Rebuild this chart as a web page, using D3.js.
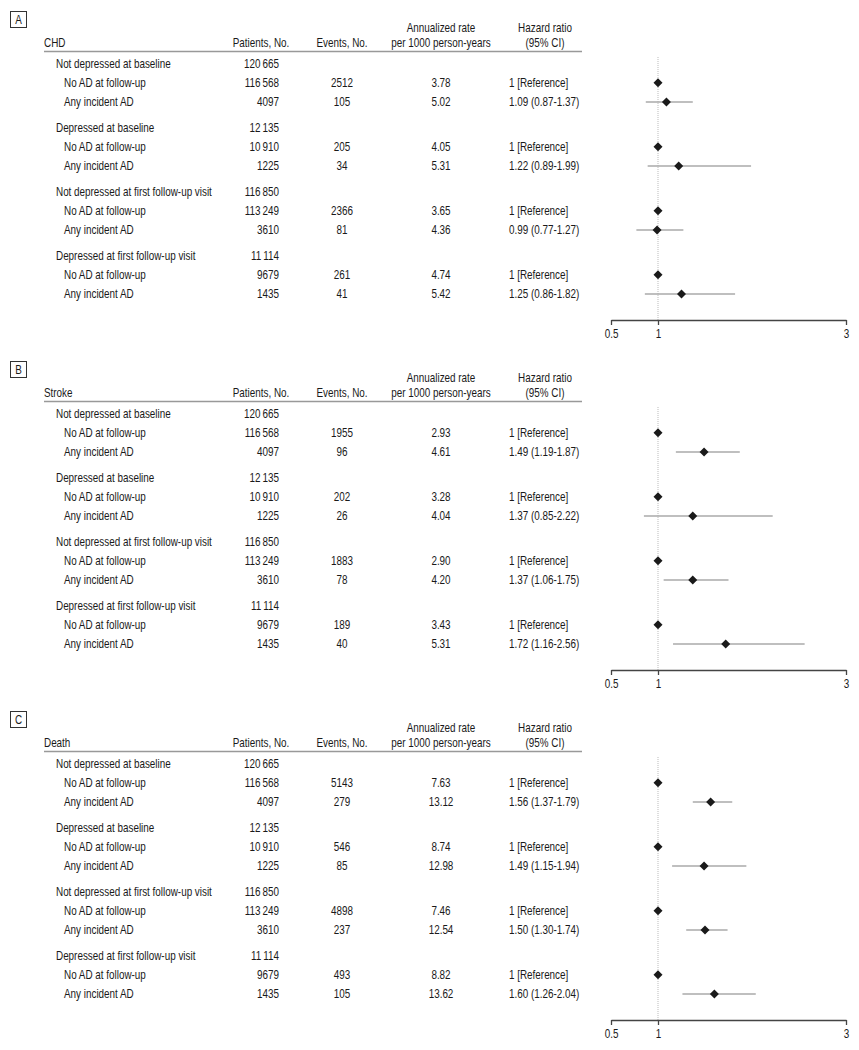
<!DOCTYPE html>
<html>
<head>
<meta charset="utf-8">
<script src="https://cdn.jsdelivr.net/npm/d3@7"></script>
<style>
  html, body { margin: 0; padding: 0; background: #fff; }
  svg text { font-family: "Liberation Sans", Arial, sans-serif; font-size: 12.2px; fill: #1a1a1a; }
</style>
</head>
<body>
<svg id="chart" width="859" height="1050"></svg>
<script>
// ---------------- DATA ----------------
const panelLetters = ["A", "B", "C"];
const outcomes = ["CHD", "Stroke", "Death"];
const groupLabels = ["Not depressed at baseline", "Depressed at baseline",
  "Not depressed at first follow-up visit", "Depressed at first follow-up visit"];
const subLabels = ["No AD at follow-up", "Any incident AD"];
const groupPatients = [120665, 12135, 116850, 11114];
const noADPatients = [116568, 10910, 113249, 9679];
const anyADPatients = [4097, 1225, 3610, 1435];
// per outcome (CHD, Stroke, Death), per group
const noADEvents = [[2512, 205, 2366, 261], [1955, 202, 1883, 189], [5143, 546, 4898, 493]];
const anyADEvents = [[105, 34, 81, 41], [96, 26, 78, 40], [279, 85, 237, 105]];
const noADRates = [["3.78", "4.05", "3.65", "4.74"], ["2.93", "3.28", "2.90", "3.43"], ["7.63", "8.74", "7.46", "8.82"]];
const anyADRates = [["5.02", "5.31", "4.36", "5.42"], ["4.61", "4.04", "4.20", "5.31"], ["13.12", "12.98", "12.54", "13.62"]];
const hrEst = [[1.09, 1.22, 0.99, 1.25], [1.49, 1.37, 1.37, 1.72], [1.56, 1.49, 1.50, 1.60]];
const hrLow = [[0.87, 0.89, 0.77, 0.86], [1.19, 0.85, 1.06, 1.16], [1.37, 1.15, 1.30, 1.26]];
const hrHigh = [[1.37, 1.99, 1.27, 1.82], [1.87, 2.22, 1.75, 2.56], [1.79, 1.94, 1.74, 2.04]];
const refHR = 1;
const axisTicks = [0.5, 1, 3];
const headerCols = [
  { lines: ["Patients, No."] },
  { lines: ["Events, No."] },
  { lines: ["Annualized rate", "per 1000 person-years"] },
  { lines: ["Hazard ratio", "(95% CI)"] }
];

// ---------------- LAYOUT ----------------
const svg = d3.select("#chart");
const panelStep = 350;
const narrow = 0.81; // horizontal compression to mimic a condensed face
const colX = { label: 44, group: 56, sub: 64, patients: 279, events: 342, rate: 441, hr: 509 };
const headerX = [261, 342, 441, 545];
const x = d3.scaleLinear().domain([0.5, 3]).range([611, 846]);
const axisY = 320;

function fmtN(n) {
  const s = String(n);
  if (s.length <= 4) return s;
  return s.slice(0, s.length - 3) + "\u2009" + s.slice(s.length - 3);
}
function fmtHR(v) { return v.toFixed(2); }

function addText(g, tx, ty, str, anchor) {
  return g.append("text")
    .attr("transform", `translate(${tx},${ty}) scale(${narrow},1)`)
    .attr("dy", "0.36em")
    .attr("text-anchor", anchor || "start")
    .text(str);
}

panelLetters.forEach((letter, p) => {
  const g = svg.append("g").attr("transform", `translate(0,${p * panelStep})`);

  // panel letter box
  g.append("rect").attr("x", 10.5).attr("y", 11.5).attr("width", 16).attr("height", 16)
    .attr("fill", "none").attr("stroke", "#333").attr("stroke-width", 1);
  addText(g, 18.5, 19.5, letter, "middle");

  // header
  addText(g, colX.label, 42.5, outcomes[p]);
  headerCols.forEach((h, i) => {
    const n = h.lines.length;
    h.lines.forEach((ln, j) => {
      addText(g, headerX[i], 42.5 - (n - 1 - j) * 14.5, ln, "middle");
    });
  });
  g.append("line").attr("x1", 44).attr("x2", 582).attr("y1", 51.5).attr("y2", 51.5)
    .attr("stroke", "#999").attr("stroke-width", 1.5);

  // reference dotted line
  g.append("line").attr("x1", x(refHR)).attr("x2", x(refHR)).attr("y1", 57).attr("y2", axisY)
    .attr("stroke", "#bbb").attr("stroke-width", 1).attr("stroke-dasharray", "1,1");

  groupLabels.forEach((gl, k) => {
    const y0 = 63.5 + 64 * k;
    const yA = y0 + 19.2;
    const yB = y0 + 38.6;
    addText(g, colX.group, y0, gl);
    addText(g, colX.patients, y0, fmtN(groupPatients[k]), "end");

    const rows = [
      { y: yA, label: subLabels[0], pts: noADPatients[k], ev: noADEvents[p][k], rate: noADRates[p][k], ref: true },
      { y: yB, label: subLabels[1], pts: anyADPatients[k], ev: anyADEvents[p][k], rate: anyADRates[p][k], ref: false,
        est: hrEst[p][k], lo: hrLow[p][k], hi: hrHigh[p][k] }
    ];
    rows.forEach(r => {
      addText(g, colX.sub, r.y, r.label);
      addText(g, colX.patients, r.y, fmtN(r.pts), "end");
      addText(g, colX.events, r.y, r.ev, "middle");
      addText(g, colX.rate, r.y, r.rate, "middle");
      addText(g, colX.hr, r.y, r.ref ? "1 [Reference]" : `${fmtHR(r.est)} (${fmtHR(r.lo)}-${fmtHR(r.hi)})`);

      const est = r.ref ? refHR : r.est;
      if (!r.ref) {
        g.append("line").attr("x1", x(r.lo)).attr("x2", x(r.hi)).attr("y1", r.y).attr("y2", r.y)
          .attr("stroke", "#aaa").attr("stroke-width", 1.5);
      }
      const cx = x(est), s = 4.5;
      g.append("path")
        .attr("d", `M${cx},${r.y - s}L${cx + s},${r.y}L${cx},${r.y + s}L${cx - s},${r.y}Z`)
        .attr("fill", "#1a1a1a");
    });
  });

  // axis
  const ax = g.append("g").attr("transform", `translate(0,${axisY})`)
    .call(d3.axisBottom(x).tickValues(axisTicks).tickFormat(d3.format("")).tickSizeOuter(0).tickSizeInner(5));
  ax.attr("font-family", null).attr("font-size", null);
  ax.select(".domain").attr("stroke", "#444").attr("stroke-width", 1.3);
  ax.selectAll(".tick line").attr("stroke", "#444").attr("stroke-width", 1.3);
  ax.selectAll(".tick text").attr("y", null).attr("dy", "0.36em")
    .attr("transform", `translate(0,13.5) scale(${narrow},1)`);
});
</script>
</body>
</html>
